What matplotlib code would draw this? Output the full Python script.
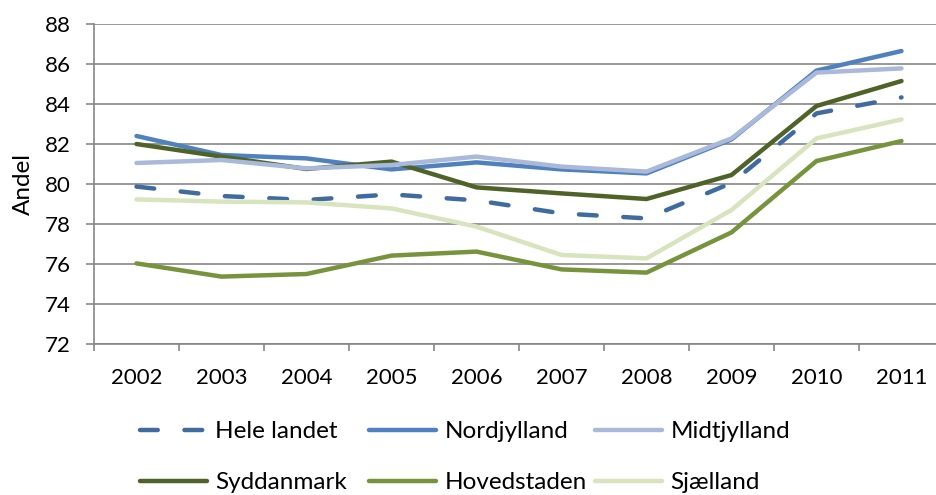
import matplotlib.pyplot as plt

plt.rcParams['font.family'] = ['Lato', 'DejaVu Sans']

# data
years = ['2002', '2003', '2004', '2005', '2006', '2007', '2008', '2009', '2010', '2011']
hele_landet = [79.87, 79.4, 79.2, 79.48, 79.18, 78.53, 78.28, 80.05, 83.53, 84.33]
nordjylland = [82.4, 81.45, 81.28, 80.73, 81.08, 80.73, 80.53, 82.23, 85.67, 86.65]
midtjylland = [81.05, 81.2, 80.78, 80.95, 81.37, 80.87, 80.62, 82.28, 85.57, 85.78]
syddanmark = [82.0, 81.37, 80.75, 81.12, 79.83, 79.53, 79.25, 80.45, 83.9, 85.15]
hovedstaden = [76.03, 75.37, 75.5, 76.42, 76.62, 75.73, 75.57, 77.58, 81.15, 82.15]
sjaelland = [79.23, 79.12, 79.08, 78.78, 77.87, 76.45, 76.28, 78.7, 82.28, 83.23]

grid_col = '#868686'
lw = 3.2
fs = 16
leg_fs = 17.5

fig = plt.figure(figsize=(9.36, 4.95), dpi=100)
ax = fig.add_axes([94 / 936, 1 - 344 / 495, 850 / 936, 320 / 495])

x = range(len(years))
h1, = ax.plot(x, hele_landet, color='#3F6B9F', lw=lw, ls=(0, (4, 6)),
              dash_capstyle='round', label='Hele landet')
h2, = ax.plot(x, nordjylland, color='#4F81BD', lw=lw, solid_capstyle='round', label='Nordjylland')
h3, = ax.plot(x, midtjylland, color='#AAB9D9', lw=lw, solid_capstyle='round', label='Midtjylland')
h4, = ax.plot(x, syddanmark, color='#4F6228', lw=lw, solid_capstyle='round', label='Syddanmark')
h5, = ax.plot(x, hovedstaden, color='#77933C', lw=lw, solid_capstyle='round', label='Hovedstaden')
h6, = ax.plot(x, sjaelland, color='#D7E4BD', lw=lw, solid_capstyle='round', label='Sjælland')

# Midtjylland sits above Nordjylland in the original
h3.set_zorder(2.5)

ax.set_xlim(-0.5, len(years) - 0.5)
ax.set_ylim(72, 88)
ax.set_yticks(range(72, 89, 2))
ax.set_xticks([i + 0.5 for i in range(-1, len(years))])
ax.set_xticklabels([])
ax.set_xticks(list(x), minor=True)
ax.set_xticklabels(years, minor=True)
ax.tick_params(axis='x', which='minor', length=0, pad=17, labelsize=fs)
ax.tick_params(axis='x', which='major', length=5, width=1.2, color=grid_col, direction='out')
ax.tick_params(axis='y', length=5.8, width=1.2, color=grid_col, labelsize=fs, pad=11)

ax.grid(axis='y', color=grid_col, lw=1.2)
ax.set_axisbelow(True)
for s in ['top', 'right']:
    ax.spines[s].set_visible(False)
for s in ['left', 'bottom']:
    ax.spines[s].set_color(grid_col)
    ax.spines[s].set_linewidth(1.2)

ax.set_ylabel('Andel', fontsize=17.5, labelpad=8)

# legend: three fixed columns, like the Excel layout
columns = [(h1, h4), (h2, h5), (h3, h6)]
col_x = [140, 369, 595]
for handles, cx in zip(columns, col_x):
    leg = fig.legend(list(handles), [h.get_label() for h in handles],
                     loc='upper left', bbox_to_anchor=(cx / 936, 1 - 421 / 495),
                     frameon=False, fontsize=leg_fs, handlelength=2.75,
                     handletextpad=0.35, labelspacing=1.25,
                     borderpad=0, borderaxespad=0)

fig.savefig('out.png', dpi=100)
